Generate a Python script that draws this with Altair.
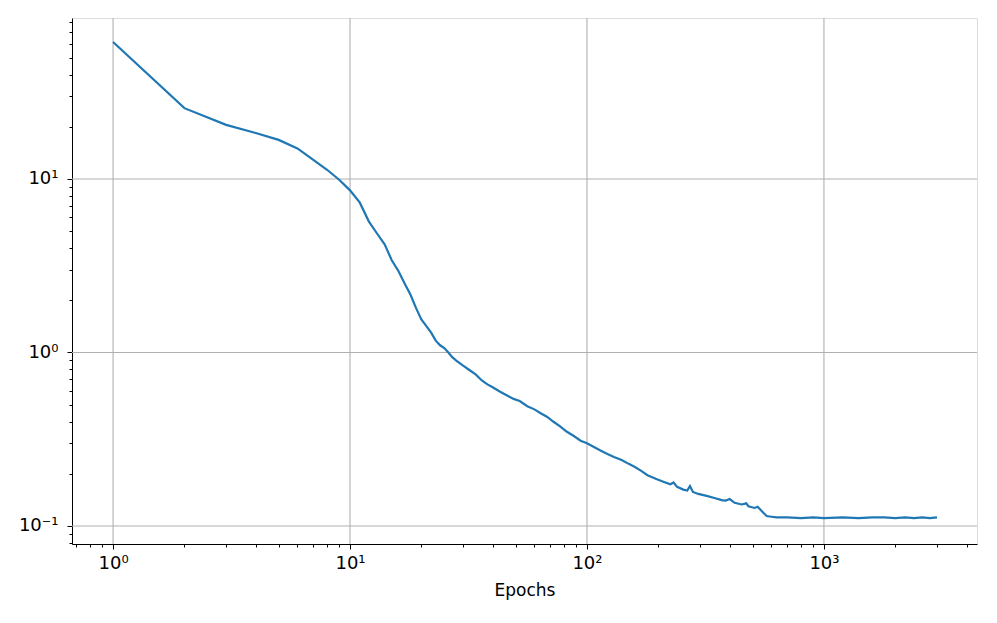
import altair as alt
import pandas as pd

# Values
epochs = [1, 2, 3, 4, 5, 6, 7, 8, 9, 10, 11, 12, 13, 14, 15, 16, 17, 18, 19, 20,
          21, 22, 23, 24, 25, 26, 27, 28, 30, 32, 34, 36, 38, 40, 43, 46, 49, 52,
          56, 60, 64, 68, 72, 77, 82, 88, 94, 100, 107, 114, 122, 130, 140, 150,
          160, 170, 180, 195, 210, 225, 232, 240, 255, 265, 272, 280, 295, 320,
          345, 370, 385, 400, 420, 450, 470, 480, 510, 525, 540, 555, 573, 600,
          631, 700, 800, 900, 1000, 1200, 1400, 1600, 1800, 2000, 2200, 2400,
          2600, 2800, 3000]
loss = [61.6, 25.6, 20.5, 18.4, 16.8, 15.0, 12.9, 11.3, 9.9, 8.6, 7.3, 5.7, 4.85,
        4.2, 3.4, 2.95, 2.5, 2.15, 1.8, 1.55, 1.42, 1.30, 1.17, 1.10, 1.06, 1.0,
        0.94, 0.90, 0.84, 0.79, 0.745, 0.69, 0.655, 0.63, 0.594, 0.565, 0.54,
        0.525, 0.49, 0.47, 0.445, 0.425, 0.40, 0.375, 0.35, 0.33, 0.31, 0.30,
        0.285, 0.272, 0.26, 0.25, 0.24, 0.228, 0.218, 0.207, 0.196, 0.187, 0.18,
        0.174, 0.178, 0.168, 0.162, 0.160, 0.170, 0.157, 0.153, 0.149, 0.145,
        0.141, 0.140, 0.143, 0.136, 0.133, 0.135, 0.130, 0.127, 0.129, 0.124,
        0.119, 0.114, 0.113, 0.112, 0.112, 0.111, 0.112, 0.111, 0.112, 0.111,
        0.112, 0.112, 0.111, 0.112, 0.111, 0.112, 0.111, 0.112]

x_ticks = [0.7, 0.8, 0.9, 1, 2, 3, 4, 5, 6, 7, 8, 9, 10, 20, 30, 40, 50, 60, 70,
           80, 90, 100, 200, 300, 400, 500, 600, 700, 800, 900, 1000, 2000, 3000, 4000]
y_ticks = [0.08, 0.09, 0.1, 0.2, 0.3, 0.4, 0.5, 0.6, 0.7, 0.8, 0.9, 1, 2, 3, 4,
           5, 6, 7, 8, 9, 10, 20, 30, 40, 50, 60, 70, 80]
x_grid = [1, 10, 100, 1000]
y_grid = [0.1, 1, 10]

df = pd.DataFrame({"epoch": epochs, "loss": loss})
gx = pd.DataFrame({"v": x_grid})
gy = pd.DataFrame({"v": y_grid})

ex = "round(log(datum.value)/LN10)"
is_decade = "abs(log(datum.value)/LN10 - " + ex + ") < 1e-6"
label_expr = ("(" + is_decade + ") ? ("
              + ex + " == -1 ? '10⁻¹' : " + ex + " == 0 ? '10⁰' : "
              + ex + " == 1 ? '10¹' : " + ex + " == 2 ? '10²' : "
              + ex + " == 3 ? '10³' : '') : ''")

xscale = alt.Scale(type="log", domain=[0.671, 4425], nice=False, zero=False)
yscale = alt.Scale(type="log", domain=[0.0787, 84.7], nice=False, zero=False)

font = "DejaVu Sans"

x_axis = alt.Axis(values=x_ticks, labelExpr=label_expr, grid=False,
                  tickSize={"condition": {"test": is_decade, "value": 5}, "value": 3},
                  tickColor="black", domainColor="black", labelColor="black",
                  labelFont=font, labelFontSize=18, labelPadding=5,
                  title="Epochs", titleFont=font, titleFontSize=17,
                  titleFontWeight="normal", titleColor="black", titlePadding=10,
                  labelFlush=False, labelOverlap=False)
y_axis = alt.Axis(values=y_ticks, labelExpr=label_expr, grid=False,
                  tickSize={"condition": {"test": is_decade, "value": 5}, "value": 3},
                  tickColor="black", domainColor="black", labelColor="black",
                  labelFont=font, labelFontSize=18, labelPadding=9, title=None,
                  labelFlush=False, labelOverlap=False)

grid_x = alt.Chart(gx).mark_rule(color="#b0b0b0", strokeWidth=1.1).encode(
    x=alt.X("v:Q", scale=xscale, axis=x_axis))
grid_y = alt.Chart(gy).mark_rule(color="#b0b0b0", strokeWidth=1.1).encode(
    y=alt.Y("v:Q", scale=yscale, axis=y_axis))

line = alt.Chart(df).mark_line(color="#1f77b4", strokeWidth=2.2).encode(
    x=alt.X("epoch:Q", scale=xscale, axis=x_axis),
    y=alt.Y("loss:Q", scale=yscale, axis=y_axis))

chart = alt.layer(grid_x, grid_y, line).properties(
    width=905, height=526,
    autosize=alt.AutoSizeParams(type="none"),
    padding={"left": 64, "top": 10, "right": 12, "bottom": 60},
).configure_view(stroke="black", strokeWidth=1.2).configure(background="white")

chart.save("out.html", embed_options={"renderer": "svg", "actions": False})
